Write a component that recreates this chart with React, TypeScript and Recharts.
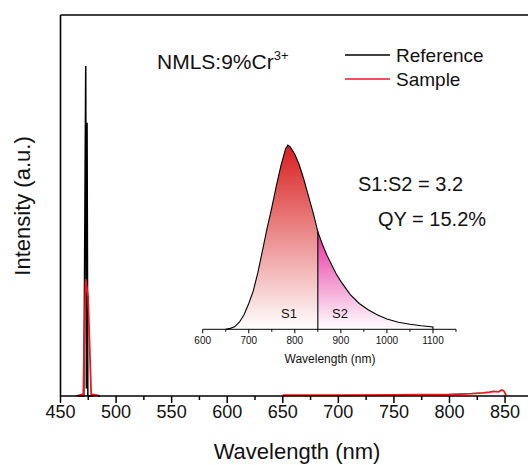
import React from 'react';
import { ComposedChart, Line, Area, XAxis, YAxis, ReferenceLine } from 'recharts';

// ---- Main spectrum data ----
const refWl = [466, 471, 472.7, 473.3, 473.9, 474.6, 480];
const refI = [0, 0, 0.866, 0.02, 0.717, 0, 0];
const sampleWlA = [464, 470.5, 472.6, 474.8, 477.6, 485.5];
const sampleIA = [0, 0.005, 0.307, 0.26, 0.005, 0];
const sampleWlB = [650, 700, 750, 800, 820, 830, 836, 840, 844, 847, 849, 851];
const sampleIB = [0.002, 0.002, 0.003, 0.004, 0.006, 0.008, 0.01, 0.012, 0.011, 0.016, 0.013, 0.002];
const mainTicks = [450, 475, 500, 525, 550, 575, 600, 625, 650, 675, 700, 725, 750, 775, 800, 825, 850, 875];

// ---- Inset emission data ----
const insetWl = [650, 660, 670, 680, 690, 700, 710, 720, 730, 740, 750, 760, 770, 780, 785, 790, 800, 810, 820, 830, 840, 850, 860, 870, 880, 890, 900, 920, 940, 960, 980, 1000, 1025, 1050, 1075, 1100];
const insetI = [0, 0.005, 0.015, 0.04, 0.08, 0.14, 0.21, 0.31, 0.43, 0.55, 0.66, 0.78, 0.89, 0.98, 1.0, 0.99, 0.95, 0.89, 0.81, 0.72, 0.63, 0.53, 0.46, 0.4, 0.35, 0.3, 0.26, 0.19, 0.14, 0.105, 0.078, 0.056, 0.038, 0.027, 0.019, 0.013];
const splitWl = 850;
const insetTicks = [600, 650, 700, 750, 800, 850, 900, 950, 1000, 1050, 1100, 1150];

const zip = (xs: number[], ys: number[]) => xs.map((x, i) => ({ x, y: ys[i] }));
const refData = zip(refWl, refI);
const sampleDataA = zip(sampleWlA, sampleIA);
const sampleDataB = zip(sampleWlB, sampleIB);
const insetAll = zip(insetWl, insetI);
const s1Data = insetAll.filter((d) => d.x <= splitWl);
const s2Data = insetAll.filter((d) => d.x >= splitWl);
const outline = [...insetAll, { x: insetWl[insetWl.length - 1], y: 0 }];
const splitVal = insetI[insetWl.indexOf(splitWl)];

const FONT = '"Liberation Sans", Arial, Helvetica, sans-serif';
const RED = '#e8191f';

const MainTick = (props: any) => {
  const { x, y, payload } = props;
  const v = payload.value;
  const major = v % 50 === 0;
  return (
    <g>
      <line x1={x} x2={x} y1={y} y2={y + (major ? 7 : 4)} stroke="#000" strokeWidth={1.5} />
      {major && v <= 850 && (
        <text x={x} y={y + 16} textAnchor="middle" dominantBaseline="central" fontFamily={FONT} fontSize={18} fill="#111">
          {v}
        </text>
      )}
    </g>
  );
};

const InsetTick = (props: any) => {
  const { x, y, payload } = props;
  const v = payload.value;
  const major = v % 100 === 0;
  return (
    <g>
      <line x1={x} x2={x} y1={y} y2={y + (major ? 4 : 2.5)} stroke="#000" strokeWidth={1} />
      {major && v <= 1100 && (
        <text x={x} y={y + 11} textAnchor="middle" dominantBaseline="central" fontFamily={FONT} fontSize={10} fill="#111">
          {v}
        </text>
      )}
    </g>
  );
};

export default function App() {
  return (
    <div style={{ position: 'absolute', left: 0, top: 0, width: 528, height: 465, overflow: 'hidden', background: '#fff' }}>
      <div style={{ position: 'absolute', left: 0, top: 0 }}>
        <ComposedChart width={560} height={465} margin={{ top: 14, right: 21.6, bottom: 39, left: 40 }}>
          <XAxis
            xAxisId="top"
            orientation="top"
            type="number"
            dataKey="x"
            domain={[450, 880]}
            height={1}
            tick={false}
            tickLine={false}
            axisLine={{ stroke: '#000', strokeWidth: 1.6 }}
          />
          <XAxis
            type="number"
            dataKey="x"
            domain={[450, 880]}
            ticks={mainTicks}
            interval={0}
            height={30}
            tickSize={0}
            tickMargin={0}
            tickLine={false}
            tick={<MainTick />}
            axisLine={{ stroke: '#000', strokeWidth: 1.6 }}
          />
          <YAxis type="number" domain={[0, 1]} width={20.5} tick={false} tickLine={false} axisLine={{ stroke: '#000', strokeWidth: 1.6 }} />
          <Line data={refData} dataKey="y" type="linear" stroke="#000" strokeWidth={1.5} dot={false} isAnimationActive={false} />
          <Line data={sampleDataA} dataKey="y" type="linear" stroke={RED} strokeWidth={1.8} dot={false} isAnimationActive={false} />
          <Line data={sampleDataB} dataKey="y" type="linear" stroke={RED} strokeWidth={1.8} dot={false} isAnimationActive={false} />
        </ComposedChart>
      </div>
      <div style={{ position: 'absolute', left: 150, top: 100 }}>
        <ComposedChart width={330} height={280} margin={{ top: 45, right: 24, bottom: 20.7, left: 52.7 }}>
          <defs>
            <linearGradient id="gS1" x1="0" y1="0" x2="0" y2="1">
              <stop offset="0%" stopColor="#d81e1e" stopOpacity={1} />
              <stop offset="100%" stopColor="#ffffff" stopOpacity={1} />
            </linearGradient>
            <linearGradient id="gS2" x1="0" y1="0" x2="0" y2="1">
              <stop offset="0%" stopColor="#e62e9e" stopOpacity={1} />
              <stop offset="100%" stopColor="#ffffff" stopOpacity={1} />
            </linearGradient>
          </defs>
          <XAxis
            type="number"
            dataKey="x"
            domain={[600, 1150]}
            ticks={insetTicks}
            interval={0}
            height={30}
            tickSize={0}
            tickMargin={0}
            tickLine={false}
            tick={<InsetTick />}
            axisLine={{ stroke: '#000', strokeWidth: 1 }}
          />
          <YAxis type="number" domain={[0, 1]} hide />
          <Area data={s1Data} dataKey="y" type="linear" stroke="none" fill="url(#gS1)" fillOpacity={1} baseValue={0} isAnimationActive={false} />
          <Area data={s2Data} dataKey="y" type="linear" stroke="none" fill="url(#gS2)" fillOpacity={1} baseValue={0} isAnimationActive={false} />
          <Line data={outline} dataKey="y" type="linear" stroke="#000" strokeWidth={1.1} dot={false} isAnimationActive={false} />
          <ReferenceLine segment={[{ x: splitWl, y: 0 }, { x: splitWl, y: splitVal }]} stroke="#000" strokeWidth={1.1} />
        </ComposedChart>
      </div>
      <svg width={528} height={465} style={{ position: 'absolute', left: 0, top: 0, pointerEvents: 'none' }} fontFamily={FONT}>
        <text x={157} y={69} fontSize={21} fill="#111">
          NMLS:9%Cr<tspan fontSize={13} dy={-9}>3+</tspan>
        </text>
        <line x1={345} x2={390} y1={55} y2={55} stroke="#000" strokeWidth={1.6} />
        <line x1={345} x2={390} y1={79} y2={79} stroke={RED} strokeWidth={1.6} />
        <text x={396} y={62} fontSize={19} fill="#111">Reference</text>
        <text x={396} y={86} fontSize={19} fill="#111">Sample</text>
        <text x={358} y={191} fontSize={20} fill="#111">S1:S2 = 3.2</text>
        <text x={378} y={226} fontSize={20} fill="#111">QY = 15.2%</text>
        <text x={289} y={318} fontSize={13} textAnchor="middle" fill="#111">S1</text>
        <text x={340} y={318} fontSize={13} textAnchor="middle" fill="#111">S2</text>
        <text x={330} y={363} fontSize={12} textAnchor="middle" fill="#111">Wavelength (nm)</text>
        <text x={297} y={459} fontSize={22} textAnchor="middle" fill="#111">Wavelength (nm)</text>
        <text x={0} y={0} fontSize={22} textAnchor="middle" fill="#111" transform="translate(30,206) rotate(-90)">Intensity (a.u.)</text>
      </svg>
    </div>
  );
}
